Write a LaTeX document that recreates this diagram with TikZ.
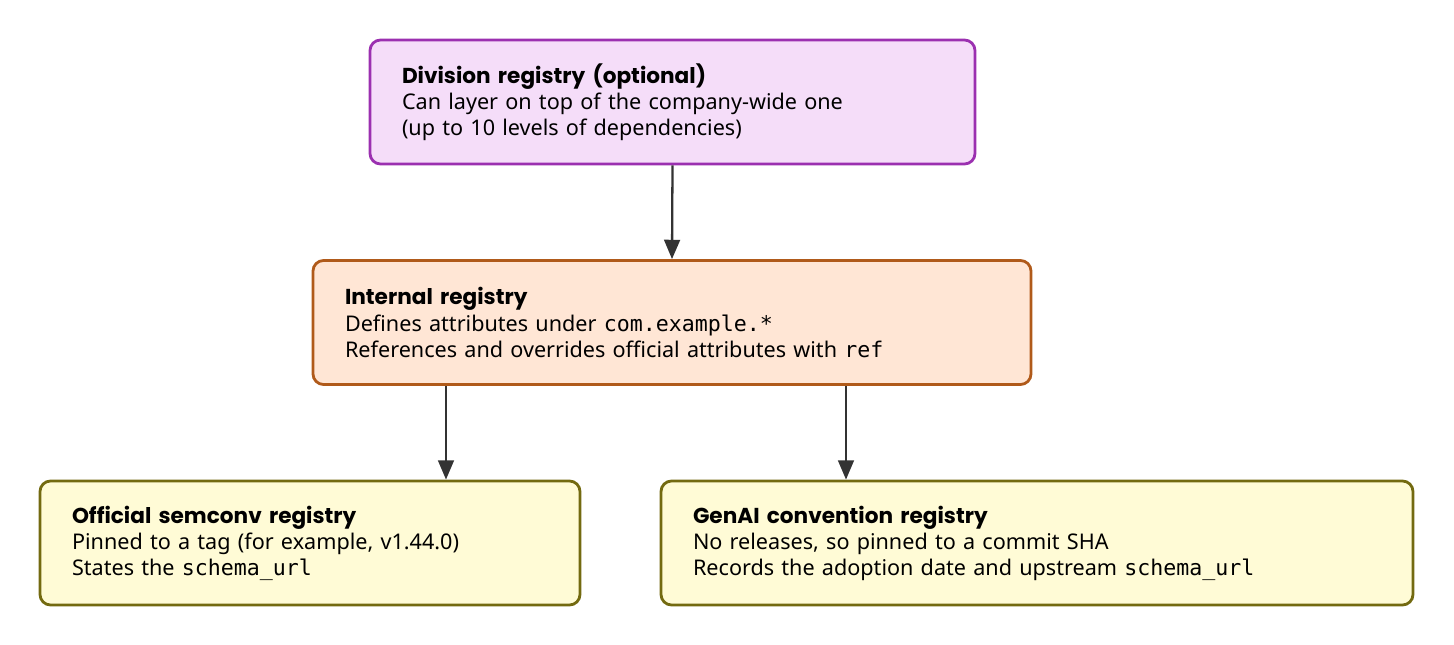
\documentclass[tikz,border=0pt]{standalone}
\usepackage{fontspec}
\setmainfont{Noto Sans}
\newfontfamily\ttl{Poppins}[UprightFont=* Bold]
\setmonofont{DejaVu Sans Mono}
\usetikzlibrary{arrows.meta}
\definecolor{pinkf}{HTML}{F5DDF9}\definecolor{pinkd}{HTML}{9B30B0}
\definecolor{orf}{HTML}{FFE6D5}\definecolor{ord}{HTML}{B05A1A}
\definecolor{yelf}{HTML}{FFFBD6}\definecolor{yeld}{HTML}{736A10}
\definecolor{arc}{HTML}{333333}
\tikzset{
 regbox/.style={draw, line width=1.6pt, rounded corners=6pt, minimum height=124*0.02cm, inner sep=0pt, align=left, font=\fontsize{12.3}{14.8}\selectfont},
 arr/.style={draw=arc, line width=1.3pt, -{Triangle[length=11pt,width=9pt]}}
}
\begin{document}
\begin{tikzpicture}[x=0.02cm,y=-0.02cm]
\useasboundingbox (0,0) rectangle (1454,645);
\node[regbox, fill=pinkf, draw=pinkd, minimum width=605*0.02cm, text width=541*0.02cm] (div) at (672.5,102)
 {{\ttl Division registry (optional)}\\Can layer on top of the company-wide one\\(up to 10 levels of dependencies)};
\node[regbox, fill=orf, draw=ord, minimum width=718*0.02cm, text width=654*0.02cm] (int) at (672,322.5)
 {{\ttl Internal registry}\\Defines attributes under \texttt{com.example.*}\\References and overrides official attributes with \texttt{ref}};
\node[regbox, fill=yelf, draw=yeld, minimum width=540*0.02cm, text width=476*0.02cm] (off) at (310,543)
 {{\ttl Official semconv registry}\\Pinned to a tag (for example, v1.44.0)\\States the \texttt{schema\_url}};
\node[regbox, fill=yelf, draw=yeld, minimum width=752*0.02cm, text width=688*0.02cm] (gen) at (1037,543)
 {{\ttl GenAI convention registry}\\No releases, so pinned to a commit SHA\\Records the adoption date and upstream \texttt{schema\_url}};
\draw[arr] (div.south) -- (int.north);
\draw[arr] (int.south -| 446,0) -- (off.north -| 446,0);
\draw[arr] (int.south -| 846,0) -- (gen.north -| 846,0);
\end{tikzpicture}
\end{document}
